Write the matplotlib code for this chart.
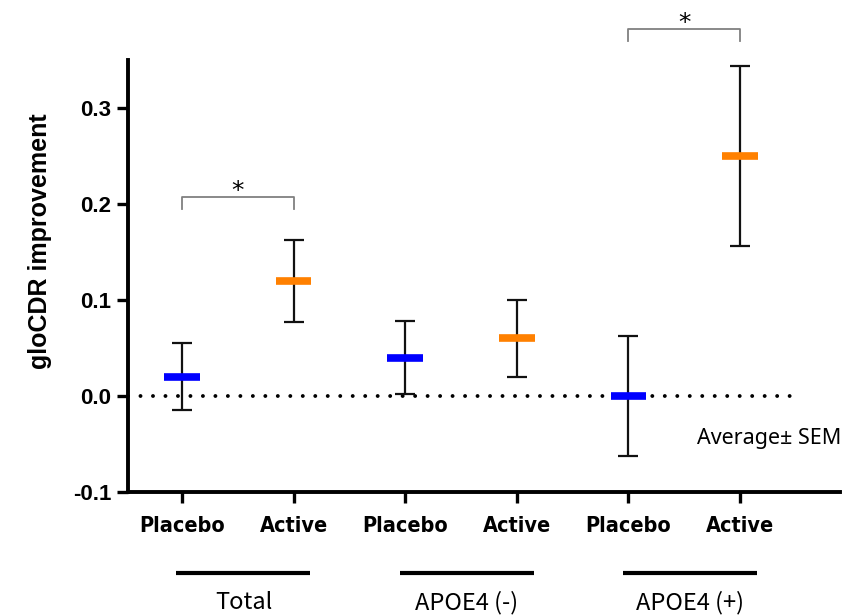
import matplotlib.pyplot as plt
import matplotlib.transforms as mtransforms

# group / arm layout
groups = ["Total", "APOE4 (-)", "APOE4 (+)"]
arms = ["Placebo", "Active", "Placebo", "Active", "Placebo", "Active"]
means = [0.02, 0.12, 0.04, 0.06, 0.0, 0.25]
sems = [0.035, 0.043, 0.038, 0.040, 0.062, 0.094]
colors = ["#0000ff", "#ff8000", "#0000ff", "#ff8000", "#0000ff", "#ff8000"]

# significance brackets: (left idx, right idx, height)
sig_pairs = [(0, 1, 0.207), (4, 5, 0.382)]

fig = plt.figure(figsize=(8.52, 6.16), dpi=100)
ax = fig.add_axes([0.1502, 0.2013, 0.8358, 0.7013])

x = list(range(len(means)))

ax.plot([-0.484, 5.49], [0, 0], color="black", lw=2.8,
        linestyle=(0, (0.01, 3.2)), dash_capstyle="round", zorder=1)

ax.errorbar(x, means, yerr=sems, fmt="none", ecolor="#111111",
            elinewidth=1.6, capsize=7.5, capthick=1.6, zorder=2)
for xi, m, c in zip(x, means, colors):
    ax.hlines(m, xi - 0.16, xi + 0.16, color=c, lw=5.5, zorder=3)

for a, b, h in sig_pairs:
    ax.plot([a, a, b, b], [h - 0.012, h, h, h - 0.012], color="#808080",
            lw=1.3, clip_on=False)
    ax.text((a + b) / 2, h - 0.006, "*", ha="center", va="bottom",
            fontsize=18, clip_on=False)

ax.text(4.61, -0.044, "Average\u00b1 SEM", family=["Noto Sans", "DejaVu Sans"],
        fontsize=15.5, va="center", ha="left")

ax.set_xlim(-0.484, 5.896)
ax.set_ylim(-0.1, 0.35)
ax.set_yticks([-0.1, 0.0, 0.1, 0.2, 0.3])
ax.set_yticklabels(["-0.1", "0.0", "0.1", "0.2", "0.3"],
                   family="Liberation Sans", fontweight="bold", fontsize=16)
ax.set_xticks(x)
ax.set_xticklabels(arms, family="DejaVu Sans", fontstretch="condensed",
                   fontweight="bold", fontsize=15.5)
ax.tick_params(axis="both", direction="out", length=8, width=2.4)
ax.tick_params(axis="x", pad=9)
ax.tick_params(axis="y", pad=4)

for s in ["top", "right"]:
    ax.spines[s].set_visible(False)
for s in ["left", "bottom"]:
    ax.spines[s].set_linewidth(2.8)

ax.set_ylabel("gloCDR improvement", family="Liberation Sans",
              fontweight="bold", fontsize=18)
ax.yaxis.set_label_coords(-0.107, 0.58)

# group underlines and labels
trans = mtransforms.blended_transform_factory(ax.transData, ax.transAxes)
for gi, g in enumerate(groups):
    c = 2 * gi + 0.5 + 0.05
    ax.plot([c - 0.6, c + 0.6], [-0.188, -0.188], color="black", lw=3,
            transform=trans, clip_on=False, solid_capstyle="butt")
    ax.text(c, -0.255, g, transform=trans, ha="center", va="center",
            family=["Noto Sans CJK KR", "DejaVu Sans"], fontsize=17)

fig.savefig("out.png", dpi=100)
